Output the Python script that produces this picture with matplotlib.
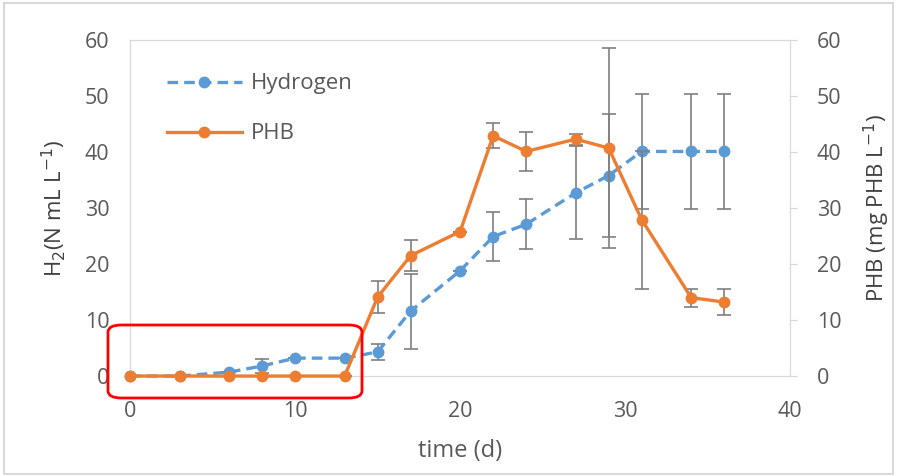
import matplotlib.pyplot as plt
from matplotlib.patches import FancyBboxPatch, Rectangle

# data
time_d = [0, 3, 6, 8, 10, 13, 15, 17, 20, 22, 24, 27, 29, 31, 34, 36]
h2 = [0, 0, 0.7, 1.8, 3.2, 3.2, 4.3, 11.6, 18.8, 24.9, 27.1, 32.7, 35.8, 40.1, 40.1, 40.1]
h2_err = [0, 0, 0, 1.2, 0, 0, 1.5, 6.7, 0, 4.4, 4.5, 8.3, 11.0, 10.2, 10.2, 10.2]
phb = [0, 0, 0, 0, 0, 0, 14.1, 21.5, 25.8, 42.9, 40.1, 42.3, 40.7, 27.9, 14.0, 13.2]
phb_err = [0, 0, 0, 0, 0, 0, 2.9, 2.8, 0, 2.2, 3.5, 1.0, 17.8, 12.3, 1.6, 2.3]

blue = '#5B9BD5'
orange = '#ED7D31'
grey_txt = '#595959'
spine_c = '#D9D9D9'

plt.rcParams['font.family'] = ['Open Sans', 'DejaVu Sans']

fig = plt.figure(figsize=(8.97, 4.76), dpi=100)
ax = fig.add_axes([0.145, 0.21, 0.736, 0.706])
ax2 = ax.twinx()

eb1 = ax.errorbar(time_d, h2, yerr=h2_err, color=blue, lw=2.4, dashes=(3.2, 1.8),
                  marker='o', ms=7.5, ecolor='#7F7F7F', elinewidth=1.2, capsize=5,
                  capthick=1.2, zorder=3)
eb2 = ax2.errorbar(time_d, phb, yerr=phb_err, color=orange, lw=2.4,
                   marker='o', ms=7.5, ecolor='#7F7F7F', elinewidth=1.2, capsize=5,
                   capthick=1.2, zorder=3)
eb1[0].set_clip_on(False)
eb2[0].set_clip_on(False)

for a in (ax, ax2):
    a.set_ylim(0, 60)
    a.set_yticks(range(0, 61, 10))
    for s in a.spines.values():
        s.set_color(spine_c)
    a.tick_params(labelsize=15.5, colors=grey_txt)
ax.set_xlim(0, 40)
ax.set_xticks(range(0, 41, 10))
ax.tick_params(axis='x', length=0, pad=18)
ax.tick_params(axis='y', length=0, pad=15)
ax2.tick_params(axis='y', length=5, color=spine_c, pad=14)

ax.set_xlabel('time (d)', fontsize=17, color=grey_txt, labelpad=12)
ax.set_ylabel('H$_2$(N mL L$^{-1}$)', fontsize=16, color='#404040', labelpad=12)
ax2.set_ylabel('PHB (mg PHB L$^{-1}$)', fontsize=16, color='#404040', labelpad=15)

ax.legend([eb1[0], eb2[0]], ['Hydrogen', 'PHB'], loc='upper left',
          bbox_to_anchor=(0.025, 0.96), frameon=False, fontsize=16,
          labelcolor=grey_txt, handlelength=3.4, labelspacing=1.3, handletextpad=0.4)

# red highlight box
fig.patches.append(FancyBboxPatch((108 / 897, 1 - 398 / 476), 254 / 897, 73 / 476,
                                  boxstyle='round,pad=0,rounding_size=0.015',
                                  transform=fig.transFigure, fill=False,
                                  edgecolor='#FF0000', lw=2, zorder=10))
# outer frame
fig.patches.append(Rectangle((0.004, 0.004), 0.992, 0.99, transform=fig.transFigure,
                             fill=False, edgecolor=spine_c, lw=1.5))

fig.savefig('out.png', dpi=100)
